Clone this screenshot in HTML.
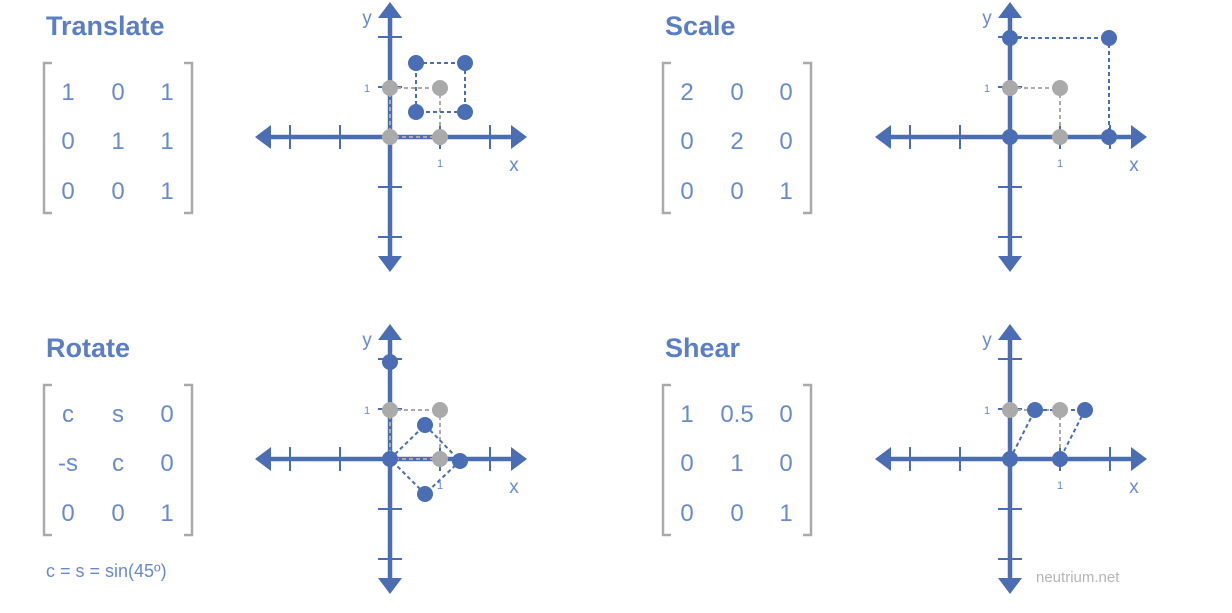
<!DOCTYPE html>
<html><head><style>
body{margin:0;background:#fff;}
svg{display:block;font-family:"Liberation Sans",sans-serif;}
.t{font-weight:bold;font-size:27px;fill:#5b7ec4}
.m{font-size:24px;fill:#6a8bcb;text-anchor:middle}
.br{stroke:#aaa;stroke-width:2.5;fill:none}
.s{font-size:11px;fill:#6a8bcb;text-anchor:middle}
.l{font-size:19px;fill:#6a8bcb;text-anchor:middle}
.bd{stroke:#4a6db3;stroke-width:2;stroke-dasharray:4,3;fill:none}
.gd{stroke:#aaa;stroke-width:2;stroke-dasharray:4,3;fill:none}
</style></head><body>
<svg width="1232" height="613" viewBox="0 0 1232 613">
<defs>
<g id="ax">
<g stroke="#4a6db3" stroke-width="4.5">
<line x1="-125" y1="0" x2="125" y2="0"/>
<line x1="0" y1="-123" x2="0" y2="123"/>
<g stroke-width="2"><line x1="-100" y1="-12" x2="-100" y2="12"/><line x1="-50" y1="-12" x2="-50" y2="12"/><line x1="50" y1="-12" x2="50" y2="12"/><line x1="100" y1="-12" x2="100" y2="12"/>
<line x1="-12" y1="-100" x2="12" y2="-100"/><line x1="-12" y1="-50" x2="12" y2="-50"/><line x1="-12" y1="50" x2="12" y2="50"/><line x1="-12" y1="100" x2="12" y2="100"/></g>
</g>
<g fill="#4a6db3">
<polygon points="-135,0 -119,-12 -119,12"/><polygon points="137,0 121,-12 121,12"/>
<polygon points="0,-135 -12,-119 12,-119"/><polygon points="0,135 -12,119 12,119"/>
</g>
<text class="l" x="-23" y="-113">y</text><text class="l" x="124" y="34">x</text>
<text class="s" x="-23" y="-45">1</text><text class="s" x="50" y="30">1</text>
</g>
<g id="brk"><path class="br" d="M52,63 H44 V213 H52"/><path class="br" d="M184,63 H192 V213 H184"/></g>
</defs>

<!-- Translate -->
<text class="t" x="46" y="35">Translate</text>
<use href="#brk"/>
<g class="m"><text x="68" y="100">1</text><text x="118" y="100">0</text><text x="167" y="100">1</text>
<text x="68" y="149">0</text><text x="118" y="149">1</text><text x="167" y="149">1</text>
<text x="68" y="199">0</text><text x="118" y="199">0</text><text x="167" y="199">1</text></g>
<use href="#ax" x="390" y="137"/>
<path class="gd" d="M390,88 H440 V137 H390 Z"/>
<path class="bd" d="M416,63 H465 V112 H416 Z"/>
<g fill="#aaa"><circle cx="390" cy="88" r="8"/><circle cx="440" cy="88" r="8"/><circle cx="390" cy="137" r="8"/><circle cx="440" cy="137" r="8"/></g>
<g fill="#4a6db3"><circle cx="416" cy="63" r="8"/><circle cx="465" cy="63" r="8"/><circle cx="416" cy="112" r="8"/><circle cx="465" cy="112" r="8"/></g>

<!-- Scale -->
<text class="t" x="665" y="35">Scale</text>
<use href="#brk" x="619"/>
<g class="m"><text x="687" y="100">2</text><text x="737" y="100">0</text><text x="786" y="100">0</text>
<text x="687" y="149">0</text><text x="737" y="149">2</text><text x="786" y="149">0</text>
<text x="687" y="199">0</text><text x="737" y="199">0</text><text x="786" y="199">1</text></g>
<use href="#ax" x="1010" y="137"/>
<path class="gd" d="M1010,88 H1060 V137"/>
<path class="bd" d="M1010,38 H1109 V137"/>
<g fill="#aaa"><circle cx="1010" cy="88" r="8"/><circle cx="1060" cy="88" r="8"/><circle cx="1060" cy="137" r="8"/></g>
<g fill="#4a6db3"><circle cx="1010" cy="38" r="8"/><circle cx="1109" cy="38" r="8"/><circle cx="1010" cy="137" r="8"/><circle cx="1109" cy="137" r="8"/></g>

<!-- Rotate -->
<text class="t" x="46" y="357">Rotate</text>
<use href="#brk" y="322"/>
<g class="m"><text x="68" y="422">c</text><text x="118" y="422">s</text><text x="167" y="422">0</text>
<text x="68" y="471">-s</text><text x="118" y="471">c</text><text x="167" y="471">0</text>
<text x="68" y="521">0</text><text x="118" y="521">0</text><text x="167" y="521">1</text></g>
<text x="46" y="577" style="font-size:18px;fill:#6a8bcb">c = s = sin(45º)</text>
<use href="#ax" x="390" y="459"/>
<path class="gd" d="M390,410 H440 V459 H390 Z"/>
<path class="bd" d="M390,459 L425,425 L460,461 L425,494 Z"/>
<g fill="#aaa"><circle cx="390" cy="410" r="8"/><circle cx="440" cy="410" r="8"/><circle cx="440" cy="459" r="8"/></g>
<g fill="#4a6db3"><circle cx="390" cy="362" r="8"/><circle cx="390" cy="459" r="8"/><circle cx="425" cy="425" r="8"/><circle cx="460" cy="461" r="8"/><circle cx="425" cy="494" r="8"/></g>

<!-- Shear -->
<text class="t" x="665" y="357">Shear</text>
<use href="#brk" x="619" y="322"/>
<g class="m"><text x="687" y="422">1</text><text x="737" y="422">0.5</text><text x="786" y="422">0</text>
<text x="687" y="471">0</text><text x="737" y="471">1</text><text x="786" y="471">0</text>
<text x="687" y="521">0</text><text x="737" y="521">0</text><text x="786" y="521">1</text></g>
<use href="#ax" x="1010" y="459"/>
<path class="gd" d="M1010,410 H1060 V459"/>
<path class="bd" d="M1010,459 L1035,410 H1085 L1060,459"/>
<g fill="#aaa"><circle cx="1010" cy="410" r="8"/><circle cx="1060" cy="410" r="8"/></g>
<g fill="#4a6db3"><circle cx="1035" cy="410" r="8"/><circle cx="1085" cy="410" r="8"/><circle cx="1010" cy="459" r="8"/><circle cx="1060" cy="459" r="8"/></g>
<text x="1036" y="582" style="font-size:15px;fill:#b5b5b5">neutrium.net</text>
</svg>
</body></html>
